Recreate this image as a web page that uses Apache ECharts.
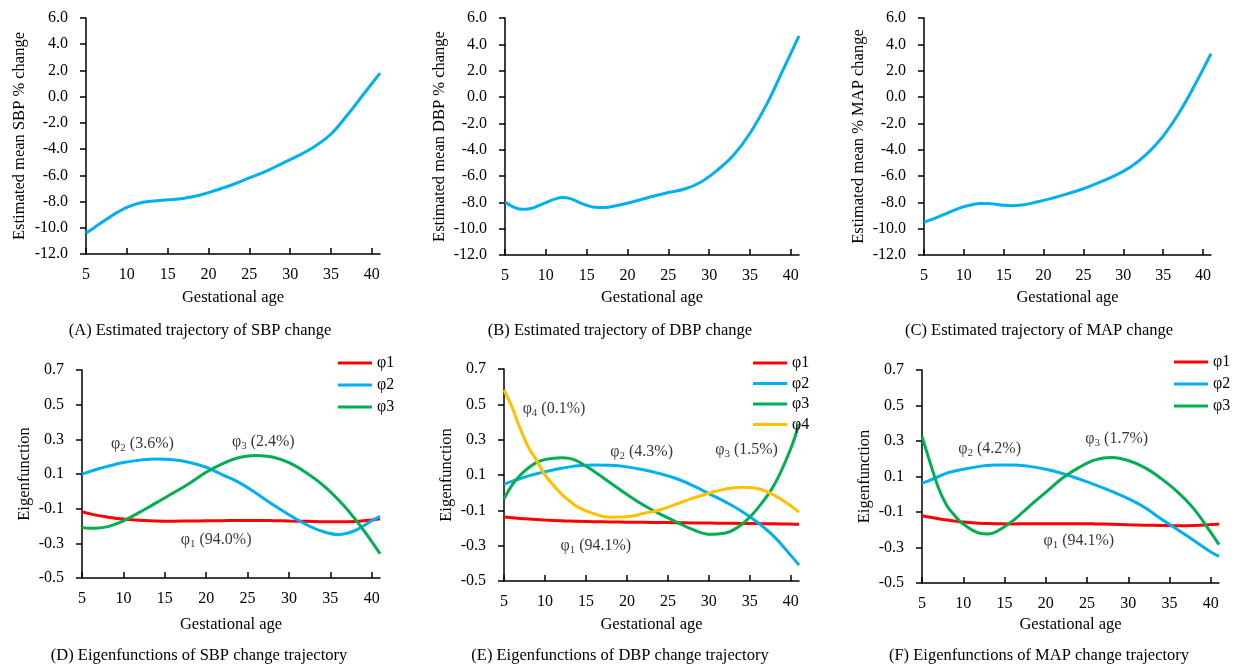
<!DOCTYPE html>
<html>
<head>
<meta charset="utf-8">
<script src="https://cdn.jsdelivr.net/npm/echarts@6/dist/echarts.min.js"></script>
<style>
  html, body { margin: 0; background: #fff; }
  #main { width: 1238px; height: 667px; }
</style>
</head>
<body>
<div id="main"></div>
<script>
// gestational weeks used for the mean trajectories
const meanWeeks = [5, 6, 7, 8, 9, 10, 11, 12, 13, 14, 15, 16, 17, 19, 21, 23, 25, 27, 29, 31, 33, 35, 37, 39, 41];
const sbpMean = [-10.4, -9.99, -9.56, -9.15, -8.77, -8.45, -8.22, -8.06, -7.97, -7.92, -7.87, -7.82, -7.75, -7.5, -7.12, -6.7, -6.2, -5.7, -5.1, -4.5, -3.8, -2.85, -1.4, 0.2, 1.8];
const dbpMean = [-7.98, -8.35, -8.53, -8.49, -8.28, -8.03, -7.78, -7.64, -7.72, -7.98, -8.22, -8.38, -8.4, -8.2, -7.9, -7.56, -7.25, -6.99, -6.45, -5.55, -4.4, -2.75, -0.6, 2.0, 4.64];
const mapMean = [-9.5, -9.3, -9.04, -8.8, -8.55, -8.33, -8.18, -8.08, -8.08, -8.15, -8.23, -8.25, -8.23, -8.0, -7.7, -7.35, -6.97, -6.49, -5.95, -5.27, -4.3, -2.97, -1.2, 0.95, 3.3];

// gestational weeks used for the eigenfunctions
const eigenWeeks = [5, 6, 7, 8, 9, 10, 12, 13, 14, 16, 18, 20, 22, 24, 26, 28, 30, 32, 34, 36, 38, 40, 41];
const sbpPhi1 = [-0.118, -0.13, -0.14, -0.148, -0.155, -0.16, -0.167, -0.169, -0.171, -0.172, -0.171, -0.17, -0.169, -0.168, -0.168, -0.169, -0.171, -0.173, -0.175, -0.176, -0.174, -0.165, -0.158];
const sbpPhi2 = [0.099, 0.115, 0.13, 0.143, 0.155, 0.166, 0.18, 0.184, 0.186, 0.182, 0.166, 0.139, 0.095, 0.05, -0.01, -0.075, -0.135, -0.19, -0.23, -0.249, -0.226, -0.17, -0.145];
const sbpPhi3 = [-0.208, -0.213, -0.212, -0.205, -0.19, -0.17, -0.12, -0.093, -0.065, -0.01, 0.047, 0.11, 0.16, 0.195, 0.207, 0.198, 0.165, 0.11, 0.04, -0.05, -0.16, -0.29, -0.36];

const dbpPhi1 = [-0.138, -0.142, -0.146, -0.149, -0.152, -0.155, -0.159, -0.161, -0.162, -0.164, -0.166, -0.167, -0.168, -0.169, -0.17, -0.171, -0.172, -0.173, -0.174, -0.175, -0.176, -0.178, -0.179];
const dbpPhi2 = [0.047, 0.065, 0.08, 0.095, 0.107, 0.118, 0.138, 0.146, 0.152, 0.157, 0.155, 0.146, 0.13, 0.108, 0.08, 0.041, -0.005, -0.052, -0.105, -0.17, -0.25, -0.355, -0.41];
const dbpPhi3 = [-0.035, 0.044, 0.1, 0.141, 0.171, 0.188, 0.198, 0.194, 0.178, 0.12, 0.055, -0.01, -0.07, -0.12, -0.165, -0.208, -0.235, -0.228, -0.18, -0.086, 0.046, 0.25, 0.39];
const dbpPhi4 = [0.581, 0.481, 0.359, 0.256, 0.181, 0.1, -0.007, -0.047, -0.082, -0.12, -0.139, -0.137, -0.118, -0.098, -0.065, -0.032, -0.003, 0.02, 0.03, 0.022, -0.015, -0.075, -0.11];

const mapPhi1 = [-0.121, -0.13, -0.138, -0.145, -0.151, -0.157, -0.163, -0.165, -0.166, -0.167, -0.166, -0.166, -0.166, -0.166, -0.167, -0.169, -0.172, -0.174, -0.176, -0.177, -0.176, -0.171, -0.168];
const mapPhi2 = [0.063, 0.08, 0.1, 0.119, 0.131, 0.141, 0.157, 0.162, 0.165, 0.165, 0.157, 0.141, 0.117, 0.087, 0.053, 0.016, -0.025, -0.075, -0.14, -0.2, -0.262, -0.325, -0.35];
const mapPhi3 = [0.326, 0.176, 0.035, -0.063, -0.122, -0.168, -0.22, -0.224, -0.211, -0.15, -0.068, 0.011, 0.09, 0.15, 0.194, 0.207, 0.19, 0.15, 0.088, 0.012, -0.085, -0.215, -0.284];

const xTicks = [5, 10, 15, 20, 25, 30, 35, 40];
const meanTicks = [-12, -10, -8, -6, -4, -2, 0, 2, 4, 6];
const eigenTicks = [-0.5, -0.3, -0.1, 0.1, 0.3, 0.5, 0.7];

const phiNames = ['φ1', 'φ2', 'φ3', 'φ4'];
const phiColors = ['#FF0000', '#00B0F0', '#00B050', '#FFC000'];

// variance explained notes: [panel, x, y, subscript, percent]
const notes = [
  [3, 12.3, 0.273, '2', '3.6%'], [3, 26.9, 0.285, '3', '2.4%'], [3, 21.2, -0.281, '1', '94.0%'],
  [4, 11.1, 0.476, '4', '0.1%'], [4, 21.8, 0.233, '2', '4.3%'], [4, 34.6, 0.244, '3', '1.5%'], [4, 16.2, -0.298, '1', '94.1%'],
  [5, 13.2, 0.255, '2', '4.2%'], [5, 28.6, 0.311, '3', '1.7%'], [5, 24.0, -0.263, '1', '94.1%']
];

const captions = [
  '(A) Estimated trajectory of SBP change',
  '(B) Estimated trajectory of DBP change',
  '(C) Estimated trajectory of MAP change',
  '(D) Eigenfunctions of SBP change trajectory',
  '(E) Eigenfunctions of DBP change trajectory',
  '(F) Eigenfunctions of MAP change trajectory'
];
const yNames = ['Estimated mean SBP % change', 'Estimated mean DBP % change', 'Estimated mean % MAP change',
  'Eigenfunction', 'Eigenfunction', 'Eigenfunction'];

const FONT = '"Liberation Serif", "Times New Roman", serif';

const grids = [
  { left: 86, top: 18, width: 294, height: 236 },
  { left: 505, top: 18, width: 294, height: 237 },
  { left: 924, top: 18, width: 287, height: 237 },
  { left: 82, top: 370, width: 298, height: 208 },
  { left: 504, top: 369, width: 295, height: 212 },
  { left: 922, top: 370, width: 297, height: 213 }
];
const captionPos = [[200, 331], [620, 331], [1039, 331], [199, 656], [620, 656], [1039, 656]];
const yNameGap = [58, 57, 57, 49, 49, 49];
const xNameGap = [35, 34, 34, 38, 35, 33];

function pairs(xs, ys) {
  return xs.map((x, i) => [x, ys[i]]);
}

const xAxis = grids.map((g, i) => ({
  type: 'value', gridIndex: i, min: 5, max: 41,
  name: 'Gestational age', nameLocation: 'middle', nameGap: xNameGap[i],
  nameTextStyle: { fontFamily: FONT, fontSize: 16.5, color: '#000' },
  axisLine: { show: true, onZero: false, lineStyle: { color: '#000', width: 1.5 } },
  axisTick: { show: true, inside: true, customValues: xTicks, length: 6, lineStyle: { color: '#000', width: 1.5 } },
  axisLabel: { customValues: xTicks, fontFamily: FONT, fontSize: 16, color: '#000', margin: 13 },
  splitLine: { show: false }
}));

const yAxis = grids.map((g, i) => {
  const ticks = i < 3 ? meanTicks : eigenTicks;
  return {
    type: 'value', gridIndex: i,
    min: ticks[0], max: ticks[ticks.length - 1],
    name: yNames[i], nameLocation: 'middle', nameGap: yNameGap[i],
    nameTextStyle: { fontFamily: FONT, fontSize: 16.5, color: '#000' },
    axisLine: { show: true, onZero: false, lineStyle: { color: '#000', width: 1.5 } },
    axisTick: { show: true, customValues: ticks, length: 6, lineStyle: { color: '#000', width: 1.5 } },
    axisLabel: { customValues: ticks, fontFamily: FONT, fontSize: 16, color: '#000', margin: 18,
      formatter: v => v.toFixed(1) },
    splitLine: { show: false }
  };
});

function line(name, grid, xs, ys, color) {
  return {
    name: name, type: 'line', xAxisIndex: grid, yAxisIndex: grid,
    data: pairs(xs, ys), symbol: 'none', smooth: 0.4,
    lineStyle: { color: color, width: 3 }, itemStyle: { color: color },
    silent: true, animation: false
  };
}

const series = [
  line('SBP', 0, meanWeeks, sbpMean, '#00B0F0'),
  line('DBP', 1, meanWeeks, dbpMean, '#00B0F0'),
  line('MAP', 2, meanWeeks, mapMean, '#00B0F0'),
  line('φ1', 3, eigenWeeks, sbpPhi1, phiColors[0]),
  line('φ2', 3, eigenWeeks, sbpPhi2, phiColors[1]),
  line('φ3', 3, eigenWeeks, sbpPhi3, phiColors[2]),
  line('φ1', 4, eigenWeeks, dbpPhi1, phiColors[0]),
  line('φ2', 4, eigenWeeks, dbpPhi2, phiColors[1]),
  line('φ3', 4, eigenWeeks, dbpPhi3, phiColors[2]),
  line('φ4', 4, eigenWeeks, dbpPhi4, phiColors[3]),
  line('φ1', 5, eigenWeeks, mapPhi1, phiColors[0]),
  line('φ2', 5, eigenWeeks, mapPhi2, phiColors[1]),
  line('φ3', 5, eigenWeeks, mapPhi3, phiColors[2])
];

[3, 4, 5].forEach(p => {
  series.push({
    name: 'notes' + p, type: 'scatter', xAxisIndex: p, yAxisIndex: p,
    symbolSize: 0, silent: true, animation: false,
    data: notes.filter(n => n[0] === p).map(n => [n[1], n[2], n[3], n[4]]),
    label: {
      show: true, position: 'inside',
      formatter: q => '{n|φ}{s|' + q.data[2] + '}{n| (' + q.data[3] + ')}',
      rich: {
        n: { fontFamily: FONT, fontSize: 16, color: '#000', lineHeight: 20 },
        s: { fontFamily: FONT, fontSize: 11, color: '#000', lineHeight: 12, verticalAlign: 'bottom' }
      }
    }
  });
});

function legend(left, top, names, gap) {
  return {
    left: left, top: top, orient: 'vertical', data: names, selectedMode: false,
    padding: 0, icon: 'rect', itemWidth: 34, itemHeight: 3, itemGap: gap,
    textStyle: { fontFamily: FONT, fontSize: 16, color: '#000' }
  };
}

const graphic = captions.map((t, i) => ({
  type: 'text', x: captionPos[i][0], y: captionPos[i][1], silent: true,
  style: { text: t, fontFamily: FONT, fontSize: 16.5, fill: '#000',
    align: 'center', verticalAlign: 'middle' }
}));

const chart = echarts.init(document.getElementById('main'));
chart.setOption({
  animation: false,
  grid: grids,
  xAxis: xAxis,
  yAxis: yAxis,
  legend: [
    legend(338, 355, phiNames.slice(0, 3), 6),
    legend(753, 355, phiNames, 4.5),
    legend(1174, 354, phiNames.slice(0, 3), 6)
  ],
  graphic: graphic,
  series: series
});
</script>
</body>
</html>
